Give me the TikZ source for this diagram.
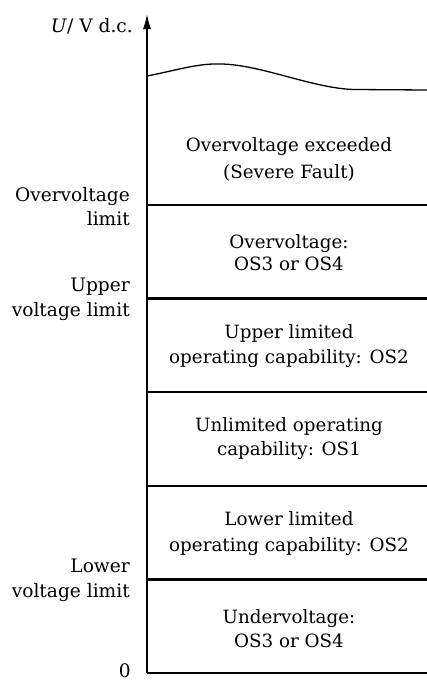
\documentclass[tikz,border=0pt]{standalone}
\usepackage{fontspec}
\setmainfont{DejaVu Serif}
\usetikzlibrary{arrows.meta}
\begin{document}
\begin{tikzpicture}[x=1pt,y=-1pt,
  zone/.style={anchor=base,font=\fontsize{18.3}{23}\selectfont,inner sep=0pt},
  lbl/.style={anchor=base east,font=\fontsize{18.6}{23}\selectfont,inner sep=0pt},
  thin/.style={line width=1.3pt},
  thick/.style={line width=3pt}]
\useasboundingbox (0,0) rectangle (427,681);
\coordinate (O) at (147,673);
\coordinate (T) at (147,14);
\coordinate (E) at (427,673);
% axes
\draw[line width=1.4pt,-{Latex[length=15pt,width=8pt]}] (O) -- (T);
\draw[line width=1.4pt] (O) -- (E);
% boundaries
\draw[thin] (147,205) -- (427,205);
\draw[thick] (145.5,298) -- (427,298);
\draw[thin] (147,392) -- (427,392);
\draw[thin] (147,486) -- (427,486);
\draw[thick] (145.5,579) -- (427,579);
% curve
\draw[line width=1.3pt] (147,76) .. controls (178,70) and (198,63) .. (222,64)
  .. controls (262,65) and (315,89) .. (355,89.5) -- (427,90);
% axis label
\node[lbl] (ax) at (133,32) {\textit{U}/ V d.c.};
% left labels
\node[lbl] (ovl1) at (130,201) {Overvoltage};
\node[lbl] (ovl2) at (130,225) {limit};
\node[lbl] (uvl1) at (130,291) {Upper};
\node[lbl] (uvl2) at (130,316) {voltage limit};
\node[lbl] (lvl1) at (130,572) {Lower};
\node[lbl] (lvl2) at (130,597) {voltage limit};
\node[lbl] (zero) at (131,677) {0};
% zones
\node[zone] (z1a) at (289,151) {Overvoltage exceeded};
\node[zone] (z1b) at (289,178) {(Severe Fault)};
\node[zone] (z2a) at (289,248) {Overvoltage:};
\node[zone] (z2b) at (289,270) {OS3 or OS4};
\node[zone] (z3a) at (289,338) {Upper limited};
\node[zone] (z3b) at (289,363) {operating capability: OS2};
\node[zone] (z4a) at (289,431) {Unlimited operating};
\node[zone] (z4b) at (289,455) {capability: OS1};
\node[zone] (z5a) at (289,525) {Lower limited};
\node[zone] (z5b) at (289,551) {operating capability: OS2};
\node[zone] (z6a) at (289,623) {Undervoltage:};
\node[zone] (z6b) at (289,647) {OS3 or OS4};
\end{tikzpicture}
\end{document}
